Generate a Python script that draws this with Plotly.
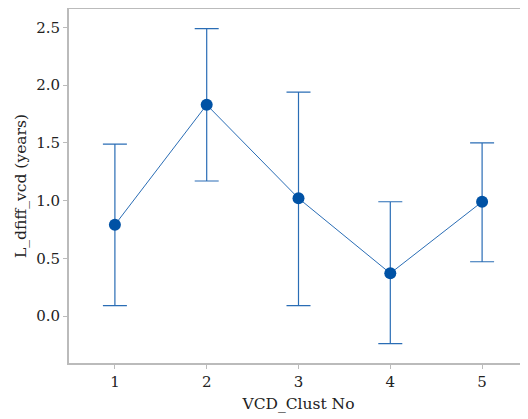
import plotly.graph_objects as go

clusters = [1, 2, 3, 4, 5]
means = [0.79, 1.83, 1.02, 0.37, 0.99]
upper = [1.49, 2.49, 1.94, 0.99, 1.50]
lower = [0.09, 1.17, 0.09, -0.24, 0.47]

err_plus = [u - m for u, m in zip(upper, means)]
err_minus = [m - l for m, l in zip(means, lower)]

fig = go.Figure()
fig.add_trace(go.Scatter(
    x=clusters, y=means, mode="lines+markers",
    line=dict(color="#2a6db5", width=1),
    marker=dict(color="#0052a5", size=12),
    error_y=dict(type="data", symmetric=False, array=err_plus, arrayminus=err_minus,
                 color="#2a6db5", thickness=1.2, width=12),
    showlegend=False,
))

tickf = dict(family="DejaVu Serif", size=15, color="#222")
titlef = dict(family="DejaVu Serif", size=15.5, color="#222")
fig.update_layout(
    width=520, height=411,
    margin=dict(l=61, r=0, t=1, b=56, autoexpand=False),
    paper_bgcolor="white", plot_bgcolor="white",
    font=tickf,
    xaxis=dict(range=[0.5, 5.5], tickvals=clusters, ticktext=[str(c) for c in clusters],
               showgrid=False, zeroline=False, showline=True, linecolor="#bbbbbb", linewidth=2,
               mirror=True, ticks="outside", ticklen=4, tickcolor="#bbbbbb",
               automargin=False, tickfont=tickf,
               title=dict(text="VCD_Clust No", standoff=8, font=titlef)),
    yaxis=dict(range=[-0.407, 2.66], tickvals=[0.0, 0.5, 1.0, 1.5, 2.0, 2.5],
               ticktext=["0.0", "0.5", "1.0", "1.5", "2.0", "2.5"],
               showgrid=False, zeroline=False, showline=True, linecolor="#bbbbbb", linewidth=2,
               ticks="outside", ticklen=4, tickcolor="#bbbbbb",
               automargin=False, tickfont=tickf,
               title=dict(text="L_dfiff_vcd (years)", standoff=6, font=titlef)),
)
fig.write_html("out.html")
